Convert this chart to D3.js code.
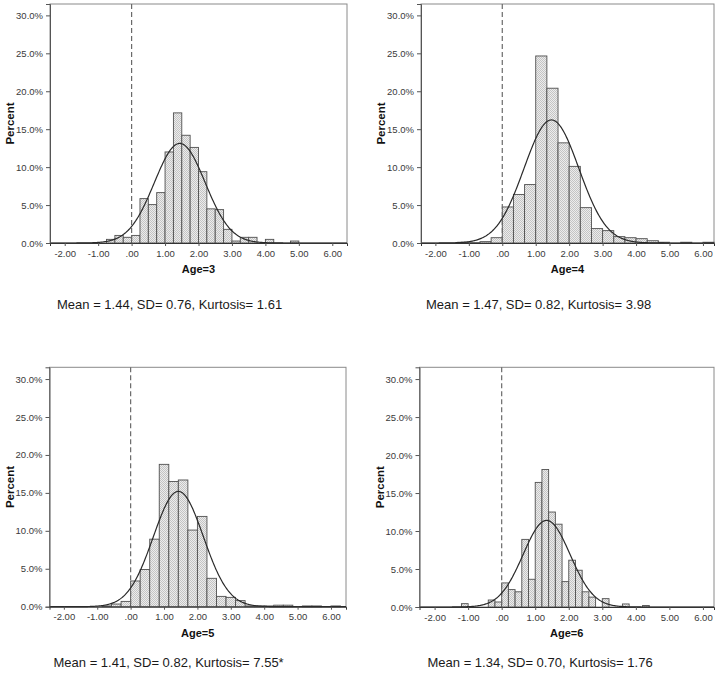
<!DOCTYPE html>
<html>
<head>
<meta charset="utf-8">
<script src="https://cdn.jsdelivr.net/npm/d3@7"></script>
<style>
  html, body { margin: 0; padding: 0; background: #fff; }
  svg { display: block; }
  text { font-family: "Liberation Sans", Arial, sans-serif; }
</style>
</head>
<body>
<svg id="chart" width="722" height="674"></svg>
<script>
// ---------------- DATA ----------------
const ageLabels = ["Age=3", "Age=4", "Age=5", "Age=6"];
const statsLabels = [
  "Mean = 1.44, SD= 0.76, Kurtosis= 1.61",
  "Mean = 1.47, SD= 0.82, Kurtosis= 3.98",
  "Mean = 1.41, SD= 0.82, Kurtosis= 7.55*",
  "Mean = 1.34, SD= 0.70, Kurtosis= 1.76"
];
// first bin left edge and bin width of each histogram
const binStart = [-0.75, -4 / 3, -6 / 7, -1.2];
const binWidth = [0.25, 1 / 3, 2 / 7, 0.2];
// percent in each bin
const pctAge3 = [0.48, 1.0, 0.75, 1.0, 5.85, 5.06, 6.64, 12.0, 17.15, 14.2, 12.6, 9.4, 4.5, 4.4, 1.8, 0.26, 0.75, 0.75, 0, 0.48, 0, 0, 0.26];
const pctAge4 = [0.1, 0.05, 0.18, 0.7, 4.75, 6.4, 7.7, 24.65, 20.4, 13.2, 10.1, 4.66, 1.9, 1.63, 0.84, 0.7, 0.57, 0.3, 0.1, 0, 0.1, 0, 0.1];
const pctAge5 = [0.1, 0.35, 0.7, 3.39, 4.9, 8.9, 18.76, 16.5, 16.7, 10.1, 11.9, 3.74, 1.36, 1.23, 0.8, 0.1, 0.1, 0.1, 0.2, 0.2, 0, 0.1, 0.1, 0, 0.1];
const pctAge6 = [0.44, 0, 0, 0, 0.92, 0.66, 3.17, 2.29, 2.0, 8.9, 3.65, 16.4, 18.1, 12.5, 10.9, 3.34, 6.16, 4.84, 2.0, 1.3, 0, 1.1, 0, 0, 0.4, 0, 0, 0.2];
const percents = [pctAge3, pctAge4, pctAge5, pctAge6];
// fitted normal curve parameters
const curveMean = [1.44, 1.47, 1.43, 1.34];
const curveSD = [0.76, 0.82, 0.75, 0.70];
// axis ticks
const xTickValues = [-2, -1, 0, 1, 2, 3, 4, 5, 6];
const xTickLabels = ["-2.00", "-1.00", ".00", "1.00", "2.00", "3.00", "4.00", "5.00", "6.00"];
const yTickValues = [0, 5, 10, 15, 20, 25, 30];
const yTickLabels = ["0.0%", "5.0%", "10.0%", "15.0%", "20.0%", "25.0%", "30.0%"];
const xDomainMin = [-2.44, -2.43, -2.43, -2.45];
const xDomainMax = [6.44, 6.33, 6.45, 6.33];
const yDomainMax = [31.5, 31.5, 31.55, 31.55];

// ---------------- LAYOUT ----------------
const frames = [
  { left: 50,    top: 4,     right: 347, bottom: 243,   statsX: 57,    statsY: 309 },
  { left: 421,   top: 4,     right: 714, bottom: 243,   statsX: 426,   statsY: 309 },
  { left: 49.5,  top: 367.3, right: 346, bottom: 606.7, statsX: 53.5,  statsY: 666.5 },
  { left: 419.5, top: 367.3, right: 714, bottom: 607,   statsX: 427.5, statsY: 666.5 }
];

const svg = d3.select("#chart");
const defs = svg.append("defs");
const pat = defs.append("pattern")
  .attr("id", "hatch").attr("patternUnits", "userSpaceOnUse")
  .attr("width", 2).attr("height", 2);
pat.append("rect").attr("width", 2).attr("height", 2).attr("fill", "#ececec");
pat.append("rect").attr("width", 1).attr("height", 1).attr("fill", "#c4c4c4");
pat.append("rect").attr("x", 1).attr("y", 1).attr("width", 1).attr("height", 1).attr("fill", "#c4c4c4");

frames.forEach((f, i) => {
  const g = svg.append("g");
  const x = d3.scaleLinear().domain([xDomainMin[i], xDomainMax[i]]).range([f.left, f.right]);
  const y = d3.scaleLinear().domain([0, yDomainMax[i]]).range([f.bottom, f.top]);

  // frame
  g.append("rect")
    .attr("x", f.left).attr("y", f.top)
    .attr("width", f.right - f.left).attr("height", f.bottom - f.top)
    .attr("fill", "none").attr("stroke", "#8a8a8a").attr("stroke-width", 1);

  // bars
  const bins = percents[i].map((p, k) => ({ x0: binStart[i] + k * binWidth[i], x1: binStart[i] + (k + 1) * binWidth[i], p }))
    .filter(d => d.p > 0);
  g.selectAll("rect.bar").data(bins).enter().append("rect")
    .attr("class", "bar")
    .attr("x", d => x(d.x0))
    .attr("width", d => x(d.x1) - x(d.x0))
    .attr("y", d => y(d.p))
    .attr("height", d => y(0) - y(d.p))
    .attr("fill", "url(#hatch)")
    .attr("stroke", "#505050").attr("stroke-width", 0.9);

  // dashed zero reference line
  g.append("line")
    .attr("x1", x(0)).attr("x2", x(0))
    .attr("y1", f.top).attr("y2", f.bottom)
    .attr("stroke", "#6a6a6a").attr("stroke-width", 1.2)
    .attr("stroke-dasharray", "5,3");

  // normal curve
  const m = curveMean[i], s = curveSD[i], w = binWidth[i];
  const xs = d3.range(xDomainMin[i], xDomainMax[i] + 0.001, 0.02);
  const pts = xs.map(v => [v, 100 * w * Math.exp(-0.5 * ((v - m) / s) ** 2) / (s * Math.sqrt(2 * Math.PI))]);
  g.append("path")
    .datum(pts)
    .attr("d", d3.line().x(d => x(d[0])).y(d => y(d[1])).curve(d3.curveLinear))
    .attr("fill", "none").attr("stroke", "#2a2a2a").attr("stroke-width", 1.2);

  // axes
  const yAxis = d3.axisLeft(y).tickValues(yTickValues)
    .tickFormat((d, k) => yTickLabels[k]).tickSize(4).tickPadding(3);
  const ya = g.append("g").attr("transform", `translate(${f.left},0)`).call(yAxis);
  const xAxis = d3.axisBottom(x).tickValues(xTickValues)
    .tickFormat((d, k) => xTickLabels[k]).tickSize(3).tickPadding(4);
  const xa = g.append("g").attr("transform", `translate(0,${f.bottom})`).call(xAxis);
  [ya, xa].forEach(a => {
    a.select(".domain").attr("stroke", "#555");
    a.selectAll(".tick line").attr("stroke", "#555");
    a.selectAll(".tick text").attr("fill", "#3a3a3a")
      .style("font-size", "9.5px").style("font-family", "'Liberation Sans', Arial, sans-serif");
  });
  xa.select(".domain").attr("stroke", "#333");

  // axis titles
  g.append("text")
    .attr("transform", `translate(${f.left - 36},${(f.top + f.bottom) / 2}) rotate(-90)`)
    .attr("text-anchor", "middle")
    .style("font-size", "11.5px").style("font-weight", "bold").attr("fill", "#111")
    .text("Percent");
  g.append("text")
    .attr("x", (f.left + f.right) / 2).attr("y", f.bottom + 30)
    .attr("text-anchor", "middle")
    .style("font-size", "11px").style("font-weight", "bold").attr("fill", "#111")
    .text(ageLabels[i]);

  // stats line
  g.append("text")
    .attr("x", f.statsX).attr("y", f.statsY)
    .style("font-size", "13px").attr("fill", "#1a1a1a")
    .text(statsLabels[i]);
});
</script>
</body>
</html>
